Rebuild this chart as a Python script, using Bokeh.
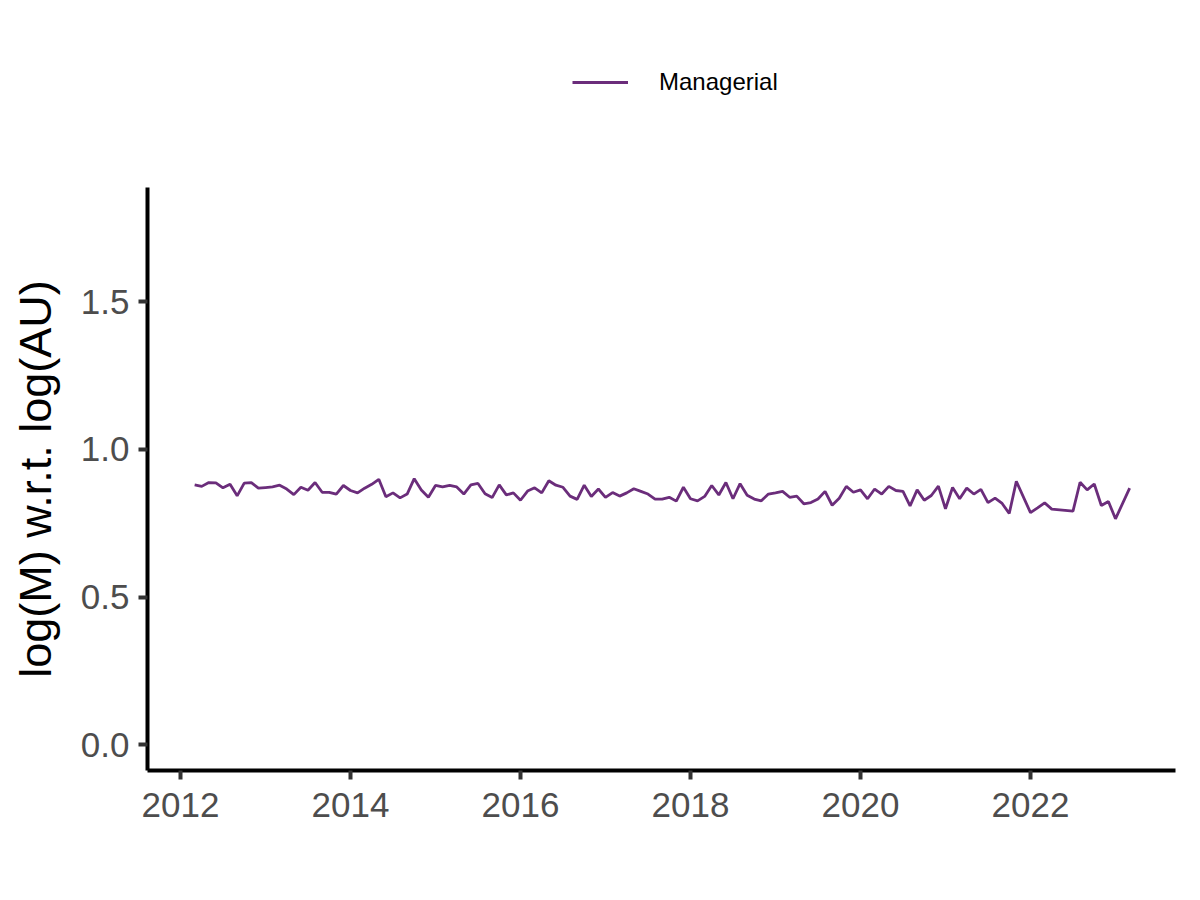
import pandas as pd
from bokeh.plotting import figure
from bokeh.layouts import column
from bokeh.models import Range1d, FixedTicker, Legend, LegendItem, CustomJSTickFormatter, ColumnDataSource
from bokeh.embed import file_html
from bokeh.resources import INLINE

# monthly series starting March 2012 (a few months absent in the source)
start_month = "2012-03"
n_months = 133
missing_idx = [117, 122, 123, 131]
managerial = [
    0.880, 0.875, 0.888, 0.887, 0.870, 0.882, 0.843, 0.886, 0.888, 0.869, 0.871,
    0.873, 0.879, 0.866, 0.847, 0.872, 0.862, 0.888, 0.855, 0.855, 0.849, 0.878,
    0.861, 0.853, 0.869, 0.882, 0.899, 0.840, 0.853, 0.836, 0.849, 0.901, 0.863,
    0.838, 0.878, 0.873, 0.878, 0.873, 0.849, 0.880, 0.885, 0.850, 0.837, 0.880,
    0.846, 0.853, 0.828, 0.859, 0.870, 0.853, 0.894, 0.879, 0.872, 0.842, 0.831,
    0.879, 0.841, 0.866, 0.838, 0.854, 0.842, 0.853, 0.867, 0.858, 0.849,
    0.832, 0.832, 0.838, 0.825, 0.872, 0.833, 0.826, 0.841, 0.878, 0.846, 0.888,
    0.833, 0.884, 0.845, 0.832, 0.826, 0.849, 0.853, 0.858, 0.838, 0.842, 0.816,
    0.820, 0.832, 0.858, 0.811, 0.835, 0.875, 0.855, 0.863, 0.833, 0.866, 0.849,
    0.875, 0.861, 0.858, 0.809, 0.863, 0.828, 0.844, 0.876, 0.799, 0.871, 0.833,
    0.869, 0.849, 0.865, 0.820, 0.835, 0.817, 0.783, 0.892,
    0.786, 0.802, 0.819, 0.798,
    0.791, 0.889, 0.863, 0.883, 0.810, 0.824, 0.765,
    0.869,
]
series_name = "Managerial"
x_ticks = [2012, 2014, 2016, 2018, 2020, 2022]
y_ticks = [0.0, 0.5, 1.0, 1.5]

months = pd.period_range(start=start_month, periods=n_months, freq="M")
months = [m for i, m in enumerate(months) if i not in missing_idx]
xs = [m.year + (m.month - 1) / 12 for m in months]
src = ColumnDataSource(dict(x=xs, y=managerial))

FONT = "Liberation Sans"
LINE_COLOR = "#6B2D7B"
LINE_W = 2.8

# ---- legend strip (top): the series is outside this strip's ranges, only its key shows ----
leg_fig = figure(
    output_backend="svg", toolbar_location=None,
    frame_width=1192, frame_height=140,
    min_border=0, min_border_left=0, min_border_right=0, min_border_top=0, min_border_bottom=0,
    x_range=Range1d(0, 1), y_range=Range1d(0, 1),
)
leg_fig.axis.visible = False
leg_fig.xgrid.visible = False
leg_fig.ygrid.visible = False
leg_fig.outline_line_color = None
key = leg_fig.line("x", "y", source=src, line_color=LINE_COLOR, line_width=LINE_W)
legend = Legend(
    items=[LegendItem(label=series_name, renderers=[key])],
    location=(572, 43), orientation="horizontal",
    glyph_width=56, glyph_height=30, label_height=30, label_standoff=31,
    padding=0, margin=0, spacing=0,
    label_text_font=FONT, label_text_font_size="24px", label_text_color="black",
    border_line_color=None, background_fill_alpha=0,
)
leg_fig.add_layout(legend, "center")

# ---- main plot ----
p = figure(
    output_backend="svg", toolbar_location=None,
    frame_width=1028, frame_height=583,
    min_border_left=147, min_border_right=17, min_border_top=47, min_border_bottom=122,
    x_range=Range1d(2011.612, 2023.706), y_range=Range1d(-0.088, 1.888),
)
p.outline_line_color = None
p.background_fill_color = "white"
p.border_fill_color = "white"
p.xgrid.visible = False
p.ygrid.visible = False

p.line("x", "y", source=src, line_color=LINE_COLOR, line_width=LINE_W)

p.xaxis.ticker = FixedTicker(ticks=x_ticks)
p.yaxis.ticker = FixedTicker(ticks=y_ticks)
p.xaxis.formatter = CustomJSTickFormatter(code="return tick.toFixed(0);")
p.yaxis.formatter = CustomJSTickFormatter(code="return tick.toFixed(1);")

for ax in (p.xaxis[0], p.yaxis[0]):
    ax.axis_line_color = "black"
    ax.axis_line_width = 4
    ax.major_tick_line_color = "#333333"
    ax.major_tick_line_width = 4
    ax.major_tick_out = 9
    ax.major_tick_in = 0
    ax.minor_tick_line_color = None
    ax.major_label_text_font = FONT
    ax.major_label_text_font_size = "35px"
    ax.major_label_text_color = "#4D4D4D"
    ax.axis_label_text_font = FONT
    ax.axis_label_text_font_style = "normal"
    ax.axis_label_text_color = "black"
    ax.axis_label_text_font_size = "45px"

p.xaxis.major_label_standoff = 13
p.yaxis.major_label_standoff = 9
p.yaxis.axis_label = "log(M) w.r.t. log(AU)"
p.yaxis.axis_label_standoff = 17

layout = column(leg_fig, p, spacing=0)
open("out.html", "w").write(file_html(layout, INLINE))
